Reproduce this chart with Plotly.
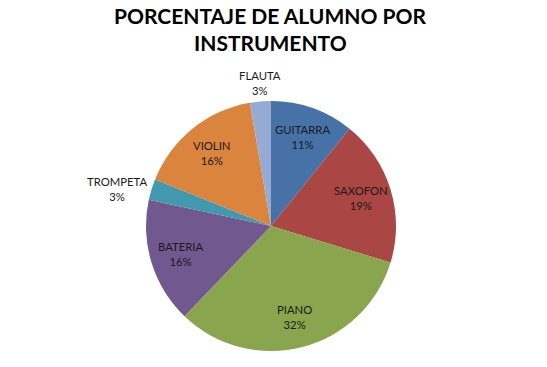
import math
import plotly.graph_objects as go

labels = ["GUITARRA", "SAXOFON", "PIANO", "BATERIA", "TROMPETA", "VIOLIN", "FLAUTA"]
values = [4, 7, 12, 6, 1, 6, 1]
colors = ["#4672A8", "#AA4644", "#89A54E", "#71588F", "#4198AF", "#DB843D", "#96ABD3"]
title_lines = ["PORCENTAJE DE ALUMNO POR", "INSTRUMENTO"]

W, H = 547, 367
cx, cy, R = 271, 226, 125

fig = go.Figure(go.Pie(
    labels=labels, values=values, sort=False, direction="clockwise", rotation=0,
    marker=dict(colors=colors, line=dict(width=0)),
    textinfo="none",
    domain=dict(x=[(cx - R) / W, (cx + R) / W], y=[1 - (cy + R) / H, 1 - (cy - R) / H]),
    showlegend=False, hoverinfo="label+percent",
))

total = sum(values)
cum = 0
for lab, v in zip(labels, values):
    share = v / total
    mid = 2 * math.pi * (cum + v / 2) / total
    cum += v
    s, c = math.sin(mid), math.cos(mid)
    if share < 0.05:
        f = 1.02
        xa = "right" if s < -0.5 else ("left" if s > 0.5 else "center")
        ya = "bottom" if c > 0.5 else ("top" if c < -0.5 else "middle")
    else:
        f = 0.755
        xa, ya = "center", "middle"
    px = cx + R * f * s
    py = cy - R * f * c
    fig.add_annotation(
        x=px / W, y=1 - py / H, xref="paper", yref="paper",
        text=f"{lab}<br>{share:.0%}", showarrow=False,
        xanchor=xa, yanchor=ya, align="center",
        font=dict(family="Lato", size=11.3, color="#1a1a1a"),
    )

for i, line in enumerate(title_lines):
    fig.add_annotation(
        x=270 / W, y=1 - (15 + 27.5 * i) / H, xref="paper", yref="paper",
        text=f"<b>{line}</b>", showarrow=False, xanchor="center", yanchor="middle",
        font=dict(family="Lato", size=21, color="#000000"),
    )

fig.update_layout(
    width=W, height=H, margin=dict(l=0, r=0, t=0, b=0),
    paper_bgcolor="white", plot_bgcolor="white",
)
fig.write_html("out.html")
